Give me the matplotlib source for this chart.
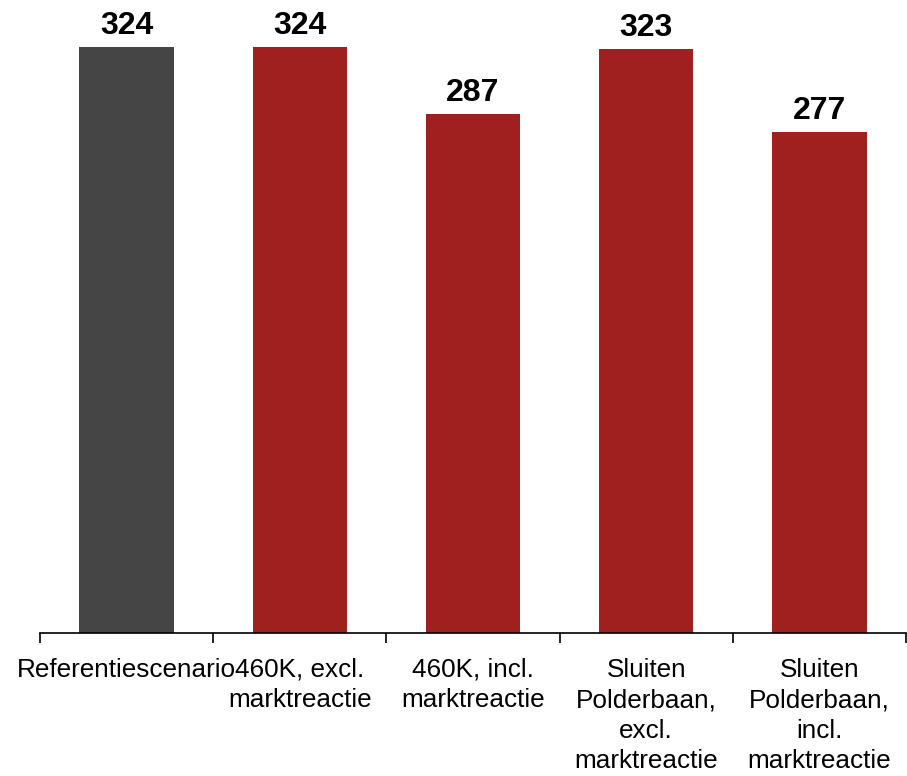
import matplotlib
matplotlib.use("Agg")
import matplotlib.pyplot as plt
import numpy as np

categories = ["Referentiescenario", "460K, excl.\nmarktreactie", "460K, incl.\nmarktreactie",
              "Sluiten\nPolderbaan,\nexcl.\nmarktreactie", "Sluiten\nPolderbaan,\nincl.\nmarktreactie"]
values = [324, 324, 287, 323, 277]
colors = ["#454545", "#A02020", "#A02020", "#A02020", "#A02020"]

plt.rcParams['font.family'] = ['Liberation Sans', 'DejaVu Sans']

fig = plt.figure(figsize=(9.07, 7.76), dpi=100)
ax = fig.add_axes([40/907, 1-633/776, 866/907, 633/776])

x = np.arange(len(categories))
bars = ax.bar(x, values, width=0.545, color=colors, edgecolor="none")
ax.set_xlim(-0.5, len(categories) - 0.5)
ax.set_ylim(0, 350)

for xi, v in zip(x, values):
    ax.annotate(f"{v}", (xi, v), xytext=(0, 4), textcoords="offset points",
                ha="center", va="bottom", fontsize=23, fontweight="bold")

for s in ["top", "right", "left"]:
    ax.spines[s].set_visible(False)
ax.spines["bottom"].set_linewidth(1.2)
ax.set_yticks([])

ax.set_xticks(np.arange(-0.5, len(categories)), minor=False)
ax.set_xticklabels([])
ax.tick_params(axis="x", which="major", length=7, width=1.2, direction="out")
ax.set_xticks(x, minor=True)
ax.set_xticklabels(categories, minor=True, fontsize=18.8)
ax.tick_params(axis="x", which="minor", length=0, pad=18)
fig.canvas.draw()
for t in ax.get_xticklabels(minor=True):
    t.set_linespacing(1.33)

fig.savefig("out.png", dpi=100)
